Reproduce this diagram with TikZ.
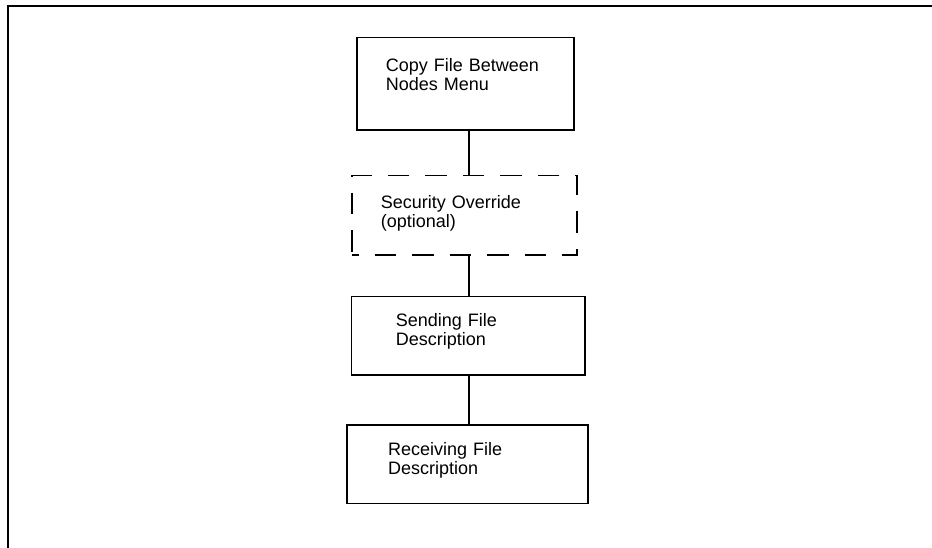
\documentclass[tikz,border=0pt]{standalone}
\usepackage{fontspec}
\setmainfont{Liberation Sans}

\begin{document}
\begin{tikzpicture}[x=1pt,y=-1pt,line width=1.6pt]
        \tikzstyle{stage}=[draw,anchor=north west,align=left,inner ysep=0pt,
                           font=\fontsize{18}{19}\selectfont]
        \tikzstyle{optional}=[stage,dash pattern=on 21.5pt off 16pt,dash phase=14.8pt]

        \useasboundingbox (0,0) rectangle (932,548);
        \draw[line width=2pt] (7.5,548) |- (932,6);

        \node[stage,inner xsep=29pt,text width=159.3pt,text height=34pt,text depth=58.3pt]
          (menu) at (356,36.7) {Copy File Between\\Nodes Menu};
        \node[optional,inner xsep=29pt,text width=167.2pt,text height=33pt,text depth=46.8pt]
          (override) at (351,174.7) {Security Override\\(optional)};
        \node[stage,inner xsep=44.2pt,text width=144.8pt,text height=30.3pt,text depth=48.3pt]
          (sending) at (350.8,295.7) {Sending File\\Description};
        \node[stage,inner xsep=41.3pt,text width=158.7pt,text height=30.3pt,text depth=48.4pt]
          (receiving) at (346,424) {Receiving File\\Description};

        \coordinate (spine) at (468.7,0);
        \foreach \from/\to in {menu/override,override/sending,sending/receiving}
          { \draw (\from.south -| spine) -- (\to.north -| spine); }
      \end{tikzpicture}
\end{document}
